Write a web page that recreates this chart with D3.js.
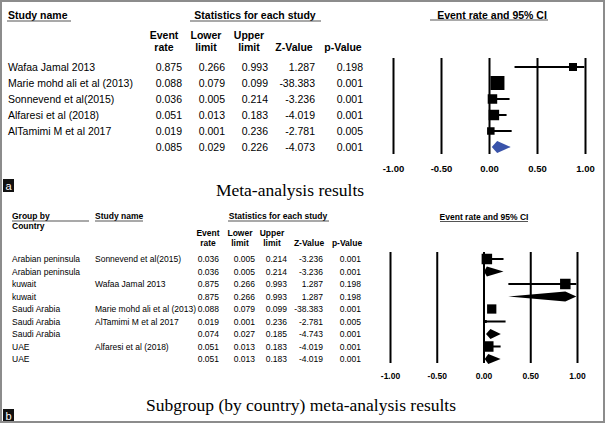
<!DOCTYPE html>
<html>
<head>
<meta charset="utf-8">
<script src="https://cdn.jsdelivr.net/npm/d3@7"></script>
<style>
  body { margin: 0; background: #fff; }
  svg { display: block; }
  text { font-family: "Liberation Sans", Arial, sans-serif; fill: #000; }
</style>
</head>
<body>
<svg id="chart" width="605" height="423"></svg>
<script>
// ---------- Panel a data ----------
const studiesA = ["Wafaa Jamal 2013", "Marie mohd ali et al (2013)", "Sonnevend et al(2015)", "Alfaresi et al (2018)", "AlTamimi M et al 2017"];
const rateA  = [0.875, 0.088, 0.036, 0.051, 0.019];
const lowerA = [0.266, 0.079, 0.005, 0.013, 0.001];
const upperA = [0.993, 0.099, 0.214, 0.183, 0.236];
const zA     = [1.287, -38.383, -3.236, -4.019, -2.781];
const pA     = [0.198, 0.001, 0.001, 0.001, 0.005];
const weightA = [12.4, 38.0, 17.5, 21.3, 10.9];   // relative weight (%)
const summaryA = [0.085, 0.029, 0.226, -4.073, 0.001]; // rate, lower, upper, z, p

// ---------- Panel b data ----------
const groupsB = ["Arabian peninsula", "Arabian peninsula", "kuwait", "kuwait", "Saudi Arabia", "Saudi Arabia", "Saudi Arabia", "UAE", "UAE"];
const studyB  = ["Sonnevend et al(2015)", "", "Wafaa Jamal 2013", "", "Marie mohd ali et al (2013)", "AlTamimi M et al 2017", "", "Alfaresi et al (2018)", ""];
const rateB  = [0.036, 0.036, 0.875, 0.875, 0.088, 0.019, 0.074, 0.051, 0.051];
const lowerB = [0.005, 0.005, 0.266, 0.266, 0.079, 0.001, 0.027, 0.013, 0.013];
const upperB = [0.214, 0.214, 0.993, 0.993, 0.099, 0.236, 0.185, 0.183, 0.183];
const zB     = [-3.236, -3.236, 1.287, 1.287, -38.383, -2.781, -4.743, -4.019, -4.019];
const pB     = [0.001, 0.001, 0.198, 0.198, 0.001, 0.005, 0.001, 0.001, 0.001];
const weightB = [100, 0, 100, 0, 78, 8, 0, 100, 0]; // within-subgroup weight (%), 0 = subgroup summary

const tickVals = [-1, -0.5, 0, 0.5, 1];
const titleA = "Meta-analysis results";
const titleB = "Subgroup (by country) meta-analysis results";

const locale = d3.formatLocale({ decimal: ".", thousands: ",", grouping: [3], currency: ["", ""], minus: "-" });
const f3 = locale.format(".3f");
const f2 = locale.format(".2f");
const svg = d3.select("#chart");

svg.append("rect").attr("x", 0).attr("y", 0).attr("width", 605).attr("height", 423).attr("fill", "#fff");

function underlinedHeader(g, x1, x2, ytext, yline, label, fs, anchor, tx) {
  g.append("text").attr("x", tx).attr("y", ytext).attr("text-anchor", anchor)
    .attr("dominant-baseline", "central").attr("font-weight", "bold").attr("font-size", fs).text(label);
  g.append("line").attr("x1", x1).attr("x2", x2).attr("y1", yline).attr("y2", yline)
    .attr("stroke", "#555").attr("stroke-width", 1.2);
}

function diamond(x, y, lo, est, hi, h) {
  return `M${x(lo)},${y} L${x(est)},${y - h / 2} L${x(hi)},${y} L${x(est)},${y + h / 2} Z`;
}

// ================= PANEL A =================
(function () {
  const g = svg.append("g");
  const fs = 10.5;
  underlinedHeader(g, 7, 71, 15, 21, "Study name", fs, "start", 8);
  underlinedHeader(g, 190, 321, 15, 21, "Statistics for each study", fs, "middle", 255);
  underlinedHeader(g, 430, 548, 15, 20, "Event rate and 95% CI", fs, "middle", 492);

  const cols = [
    { h1: "Event", h2: "rate", hc: 164, right: 182 },
    { h1: "Lower", h2: "limit", hc: 206, right: 225 },
    { h1: "Upper", h2: "limit", hc: 249, right: 268 },
    { h1: "", h2: "Z-Value", hc: 294, right: 315 },
    { h1: "", h2: "p-Value", hc: 343, right: 363 }
  ];
  cols.forEach(c => {
    g.append("text").attr("x", c.hc).attr("y", 34.5).attr("text-anchor", "middle")
      .attr("dominant-baseline", "central").attr("font-weight", "bold").attr("font-size", fs).text(c.h1);
    g.append("text").attr("x", c.hc).attr("y", 46.5).attr("text-anchor", "middle")
      .attr("dominant-baseline", "central").attr("font-weight", "bold").attr("font-size", fs).text(c.h2);
  });

  const y = d3.scalePoint().domain(d3.range(studiesA.length + 1)).range([67, 147]);
  const x = d3.scaleLinear().domain([-1, 1]).range([393, 585]);
  const size = d3.scaleSqrt().domain([0, d3.max(weightA)]).range([0, 14]);

  const rows = studiesA.map((s, i) => ({ name: s, vals: [rateA[i], lowerA[i], upperA[i], zA[i], pA[i]], i }));
  rows.push({ name: "", vals: summaryA, i: studiesA.length });
  rows.forEach(r => {
    g.append("text").attr("x", 8).attr("y", y(r.i)).attr("dominant-baseline", "central").attr("font-size", fs).text(r.name);
    r.vals.forEach((v, k) => {
      g.append("text").attr("x", cols[k].right).attr("y", y(r.i)).attr("text-anchor", "end")
        .attr("dominant-baseline", "central").attr("font-size", fs).text(f3(v));
    });
  });

  // axis with vertical reference lines
  const axis = d3.axisBottom(x).tickValues(tickVals).tickFormat(f2).tickSize(-96).tickPadding(11);
  const ax = g.append("g").attr("transform", "translate(0,154)").call(axis);
  ax.select(".domain").remove();
  ax.selectAll(".tick line").attr("stroke", "#000").attr("stroke-width", 2);
  ax.selectAll(".tick text").attr("font-size", 9.5).attr("font-weight", "bold")
    .attr("font-family", "'Liberation Sans', Arial, sans-serif").attr("fill", "#000");

  // CIs and squares
  studiesA.forEach((s, i) => {
    g.append("line").attr("x1", x(lowerA[i])).attr("x2", x(upperA[i])).attr("y1", y(i)).attr("y2", y(i))
      .attr("stroke", "#000").attr("stroke-width", 2);
    const sz = size(weightA[i]);
    g.append("rect").attr("x", x(rateA[i]) - sz / 2).attr("y", y(i) - sz / 2).attr("width", sz).attr("height", sz).attr("fill", "#000");
  });
  g.append("path").attr("d", diamond(x, y(studiesA.length), summaryA[1], summaryA[0], summaryA[2], 12))
    .attr("fill", "#3953aa");

  // label box and title
  g.append("rect").attr("x", 3).attr("y", 179).attr("width", 11).attr("height", 13).attr("fill", "#111");
  g.append("text").attr("x", 8.5).attr("y", 185.5).attr("text-anchor", "middle").attr("dominant-baseline", "central")
    .attr("font-size", 11).style("fill", "#fff").text("a");
  g.append("text").attr("x", 290).attr("y", 190).attr("text-anchor", "middle").attr("dominant-baseline", "central")
    .attr("font-size", 17.5).style("font-family", "'Liberation Serif', 'Times New Roman', serif").text(titleA);
})();

// ================= PANEL B =================
(function () {
  const g = svg.append("g");
  const fs = 8.5;
  g.append("text").attr("x", 12).attr("y", 216).attr("dominant-baseline", "central").attr("font-weight", "bold").attr("font-size", fs).text("Group by");
  g.append("text").attr("x", 12).attr("y", 226).attr("dominant-baseline", "central").attr("font-weight", "bold").attr("font-size", fs).text("Country");
  g.append("line").attr("x1", 12).attr("x2", 89).attr("y1", 221).attr("y2", 221).attr("stroke", "#555").attr("stroke-width", 1.1);
  underlinedHeader(g, 95, 143, 216, 221, "Study name", fs, "start", 95);
  underlinedHeader(g, 228, 329, 216, 221, "Statistics for each study", fs, "middle", 278);
  underlinedHeader(g, 440, 528, 216.5, 221.5, "Event rate and 95% CI", fs, "middle", 484);

  const cols = [
    { h1: "Event", h2: "rate", hc: 208, right: 219 },
    { h1: "Lower", h2: "limit", hc: 240, right: 255 },
    { h1: "Upper", h2: "limit", hc: 272, right: 287 },
    { h1: "", h2: "Z-Value", hc: 309, right: 323 },
    { h1: "", h2: "p-Value", hc: 347, right: 361 }
  ];
  cols.forEach(c => {
    g.append("text").attr("x", c.hc).attr("y", 232.5).attr("text-anchor", "middle")
      .attr("dominant-baseline", "central").attr("font-weight", "bold").attr("font-size", fs).text(c.h1);
    g.append("text").attr("x", c.hc).attr("y", 243).attr("text-anchor", "middle")
      .attr("dominant-baseline", "central").attr("font-weight", "bold").attr("font-size", fs).text(c.h2);
  });

  const y = d3.scalePoint().domain(d3.range(groupsB.length)).range([259, 359]);
  const x = d3.scaleLinear().domain([-1, 1]).range([390, 577]);
  const size = d3.scaleSqrt().domain([0, 100]).range([0, 10.5]);

  groupsB.forEach((grp, i) => {
    g.append("text").attr("x", 12).attr("y", y(i)).attr("dominant-baseline", "central").attr("font-size", fs).text(grp);
    g.append("text").attr("x", 95).attr("y", y(i)).attr("dominant-baseline", "central").attr("font-size", fs).text(studyB[i]);
    [rateB[i], lowerB[i], upperB[i], zB[i], pB[i]].forEach((v, k) => {
      g.append("text").attr("x", cols[k].right).attr("y", y(i)).attr("text-anchor", "end")
        .attr("dominant-baseline", "central").attr("font-size", fs).text(f3(v));
    });
  });

  const axis = d3.axisBottom(x).tickValues(tickVals).tickFormat(f2).tickSize(-111).tickPadding(10);
  const ax = g.append("g").attr("transform", "translate(0,363)").call(axis);
  ax.select(".domain").remove();
  ax.selectAll(".tick line").attr("stroke", "#000").attr("stroke-width", 2);
  ax.selectAll(".tick text").attr("font-size", 8.5).attr("font-weight", "bold")
    .attr("font-family", "'Liberation Sans', Arial, sans-serif").attr("fill", "#000");

  groupsB.forEach((grp, i) => {
    if (studyB[i] !== "") {
      g.append("line").attr("x1", x(lowerB[i])).attr("x2", x(upperB[i])).attr("y1", y(i)).attr("y2", y(i))
        .attr("stroke", "#000").attr("stroke-width", 2);
      const sz = size(weightB[i]);
      g.append("rect").attr("x", x(rateB[i]) - sz / 2).attr("y", y(i) - sz / 2).attr("width", sz).attr("height", sz).attr("fill", "#000");
    } else {
      g.append("path").attr("d", diamond(x, y(i), lowerB[i], rateB[i], upperB[i], 10)).attr("fill", "#000");
    }
  });

  g.append("rect").attr("x", 3).attr("y", 409).attr("width", 11).attr("height", 13).attr("fill", "#111");
  g.append("text").attr("x", 8.5).attr("y", 415.5).attr("text-anchor", "middle").attr("dominant-baseline", "central")
    .attr("font-size", 11).style("fill", "#fff").text("b");
  g.append("text").attr("x", 301).attr("y", 405).attr("text-anchor", "middle").attr("dominant-baseline", "central")
    .attr("font-size", 17.5).style("font-family", "'Liberation Serif', 'Times New Roman', serif").text(titleB);
})();

// outer frame
svg.append("rect").attr("x", 1).attr("y", 1).attr("width", 603).attr("height", 421)
  .attr("fill", "none").attr("stroke", "#8c8c8c").attr("stroke-width", 2);
</script>
</body>
</html>
